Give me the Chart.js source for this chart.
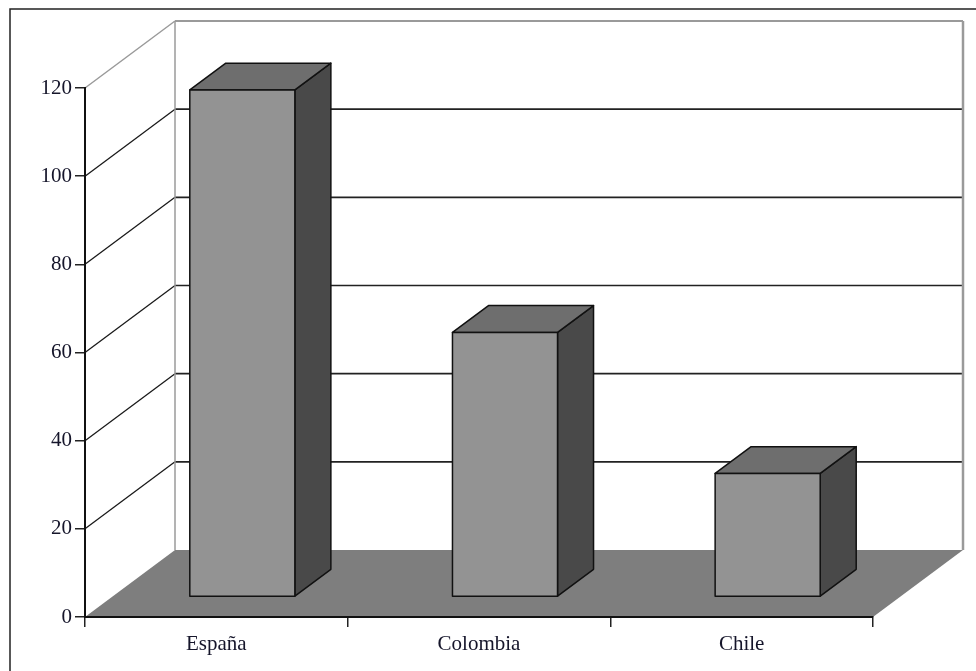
<!DOCTYPE html>
<html>
<head>
<meta charset="utf-8">
<script src="https://cdn.jsdelivr.net/npm/chart.js@4"></script>
<style>
  html, body { margin: 0; padding: 0; background: #fff; }
  #wrap { width: 976px; height: 671px; position: relative; }
</style>
</head>
<body>
<div id="wrap"><canvas id="c"></canvas></div>
<script>
const categories = ['España', 'Colombia', 'Chile'];
const values = [115, 60, 28];
const yMin = 0;
const yMax = 120;
const yStep = 20;

// 3D projection (styling)
const DEPTH_X = 90, DEPTH_Y = -67;
const BAR_FRONT = 0.3, BAR_BACK = 0.7;
const FONT = '"Liberation Serif", "Times New Roman", serif';
const TEXT = '#15152a';

const threeD = {
  id: 'threeD',
  beforeDraw(chart) {
    const { ctx, chartArea: a, scales: { y } } = chart;
    ctx.save();
    // outer frame
    ctx.strokeStyle = '#222';
    ctx.lineWidth = 1.5;
    ctx.strokeRect(10, 9, 1000, 1000);

    const L = a.left, R = a.right, B = a.bottom, T = y.getPixelForValue(yMax);
    // floor
    ctx.fillStyle = '#7e7e7e';
    ctx.beginPath();
    ctx.moveTo(L, B);
    ctx.lineTo(L + DEPTH_X, B + DEPTH_Y);
    ctx.lineTo(R + DEPTH_X, B + DEPTH_Y);
    ctx.lineTo(R, B);
    ctx.closePath();
    ctx.fill();

    // grid lines on walls
    y.ticks.forEach(t => {
      const v = t.value;
      if (v === yMin) return;
      const yy = y.getPixelForValue(v);
      const top = v === yMax;
      ctx.strokeStyle = top ? '#9a9a9a' : '#1a1a1a';
      ctx.lineWidth = top ? 1.5 : 1.3;
      ctx.beginPath();
      ctx.moveTo(L, yy);
      ctx.lineTo(L + DEPTH_X, yy + DEPTH_Y);
      ctx.stroke();
      ctx.lineWidth = top ? 2 : 1.7;
      ctx.strokeStyle = top ? '#9a9a9a' : '#222';
      ctx.beginPath();
      ctx.moveTo(L + DEPTH_X, yy + DEPTH_Y);
      ctx.lineTo(R + DEPTH_X, yy + DEPTH_Y);
      ctx.stroke();
    });
    // back wall edges
    ctx.strokeStyle = '#9a9a9a';
    ctx.lineWidth = 1.5;
    ctx.beginPath();
    ctx.moveTo(L + DEPTH_X, T + DEPTH_Y);
    ctx.lineTo(L + DEPTH_X, B + DEPTH_Y);
    ctx.stroke();
    ctx.lineWidth = 2.5;
    ctx.beginPath();
    ctx.moveTo(R + DEPTH_X, T + DEPTH_Y);
    ctx.lineTo(R + DEPTH_X, B + DEPTH_Y);
    ctx.stroke();
    ctx.restore();
  },
  afterDatasetsDraw(chart) {
    const { ctx } = chart;
    const meta = chart.getDatasetMeta(0);
    ctx.save();
    ctx.lineJoin = 'round';
    ctx.strokeStyle = '#111';
    ctx.lineWidth = 1.5;
    const fx = BAR_FRONT * DEPTH_X, fy = BAR_FRONT * DEPTH_Y;
    const dx = (BAR_BACK - BAR_FRONT) * DEPTH_X, dy = (BAR_BACK - BAR_FRONT) * DEPTH_Y;
    meta.data.forEach(el => {
      const { x, y, base, width } = el.getProps(['x', 'y', 'base', 'width'], true);
      const l = x - width / 2 + fx - 1, r = x + width / 2 + fx - 1;
      const t = y + fy, b = base + fy;
      // side
      ctx.fillStyle = '#494949';
      ctx.beginPath();
      ctx.moveTo(r, t); ctx.lineTo(r + dx, t + dy); ctx.lineTo(r + dx, b + dy); ctx.lineTo(r, b);
      ctx.closePath(); ctx.fill(); ctx.stroke();
      // top
      ctx.fillStyle = '#6e6e6e';
      ctx.beginPath();
      ctx.moveTo(l, t); ctx.lineTo(l + dx, t + dy); ctx.lineTo(r + dx, t + dy); ctx.lineTo(r, t);
      ctx.closePath(); ctx.fill(); ctx.stroke();
      // front
      ctx.fillStyle = '#939393';
      ctx.beginPath();
      ctx.rect(l, t, r - l, b - t);
      ctx.fill(); ctx.stroke();
    });
    ctx.restore();
  }
};

new Chart(document.getElementById('c'), {
  type: 'bar',
  data: {
    labels: categories,
    datasets: [{
      data: values,
      backgroundColor: 'rgba(0,0,0,0)',
      borderWidth: 0,
      categoryPercentage: 1,
      barPercentage: 0.4
    }]
  },
  options: {
    responsive: true,
    maintainAspectRatio: false,
    animation: false,
    layout: { padding: { top: 88, right: 103, left: 0, bottom: 0 } },
    plugins: { legend: { display: false }, tooltip: { enabled: false } },
    scales: {
      x: {
        offset: true,
        grid: { offset: true, drawOnChartArea: false, tickLength: 10, color: '#222', lineWidth: 1.5 },
        border: { display: true, color: '#111', width: 2 },
        ticks: { color: TEXT, font: { family: FONT, size: 21 }, padding: 5 },
        afterFit(s) { s.height = 54; }
      },
      y: {
        min: yMin, max: yMax,
        grid: { drawOnChartArea: false, tickLength: 10, color: '#222', lineWidth: 1.5 },
        border: { display: true, color: '#111', width: 2 },
        ticks: { stepSize: yStep, color: TEXT, font: { family: FONT, size: 21 }, padding: 3 },
        afterFit(s) { s.width = 85; }
      }
    }
  },
  plugins: [threeD]
});
</script>
</body>
</html>
